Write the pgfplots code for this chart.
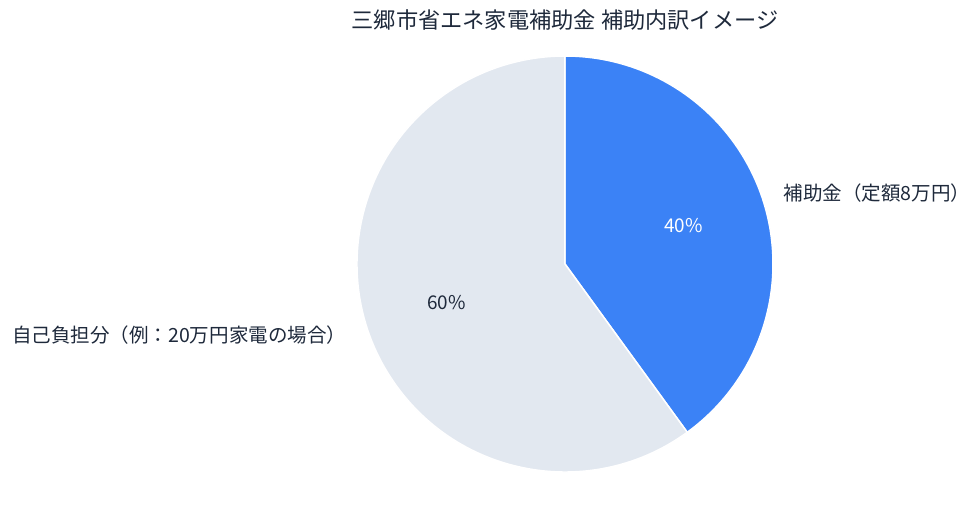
\documentclass[border=0pt]{standalone}
\usepackage{fontspec}
\setmainfont{Noto Sans CJK JP}
\usepackage{pgfplots}
\usepackage{pgfplotstable}
\pgfplotsset{compat=1.18}

\definecolor{subsidy}{HTML}{3B82F6}
\definecolor{selfpay}{HTML}{E2E8F0}
\definecolor{txt}{HTML}{1E293B}

% share in percent, clockwise from 12 o'clock
\pgfplotstableread{
part value
subsidy 40
self 60
}\piedata

\begin{document}
\begin{tikzpicture}
\pgfplotstablegetelem{0}{value}\of\piedata \let\va\pgfplotsretval
\pgfplotstablegetelem{1}{value}\of\piedata \let\vb\pgfplotsretval
\pgfmathsetmacro\angA{90-3.6*\va}
\pgfmathsetmacro\angB{\angA-3.6*\vb}
\pgfmathsetmacro\midA{90-1.8*\va}
\pgfmathsetmacro\midB{\angA-1.8*\vb}
\pgfmathsetmacro\ax{cos(\angA)}
\pgfmathsetmacro\ay{sin(\angA)}
\pgfmathsetmacro\pax{0.6*cos(\midA)}
\pgfmathsetmacro\pay{0.6*sin(\midA)}
\pgfmathsetmacro\pbx{0.6*cos(\midB)}
\pgfmathsetmacro\pby{0.6*sin(\midB)}
\pgfmathsetmacro\lax{1.1*cos(\midA)}
\pgfmathsetmacro\lay{1.1*sin(\midA)}
\pgfmathsetmacro\lbx{1.1*cos(\midB)}
\pgfmathsetmacro\lby{1.1*sin(\midB)}
\path[use as bounding box] (-565bp,-243bp) rectangle (415bp,264bp);
\begin{axis}[
    at={(0,0)}, anchor=center,
    scale only axis,
    width=416bp, height=416bp,
    xmin=-1, xmax=1, ymin=-1, ymax=1,
    hide axis,
    clip=false,
  ]
  \filldraw[fill=subsidy, draw=white, line width=1.5pt]
    (axis cs:0,0) -- (axis cs:0,1) arc[start angle=90, end angle=\angA, radius=208bp] -- cycle;
  \filldraw[fill=selfpay, draw=white, line width=1.5pt]
    (axis cs:0,0) -- (axis cs:\ax,\ay) arc[start angle=\angA, end angle=\angB, radius=208bp] -- cycle;
  \node[white, font=\fontsize{19}{22}\selectfont] at (axis cs:\pax,\pay) {\va\%};
  \node[txt, font=\fontsize{19}{22}\selectfont] at (axis cs:\pbx,\pby) {\vb\%};
  \node[txt, anchor=west, inner sep=1pt, font=\fontsize{19.6}{22}\selectfont] at (axis cs:\lax,\lay) {補助金（定額8万円）};
  \node[txt, anchor=east, inner sep=1pt, font=\fontsize{19.6}{22}\selectfont] at (axis cs:\lbx,\lby) {自己負担分（例：20万円家電の場合）};
  \node[txt, font=\fontsize{22.3}{26}\selectfont] at (axis cs:0,1.173) {三郷市省エネ家電補助金 補助内訳イメージ};
\end{axis}
\end{tikzpicture}
\end{document}
